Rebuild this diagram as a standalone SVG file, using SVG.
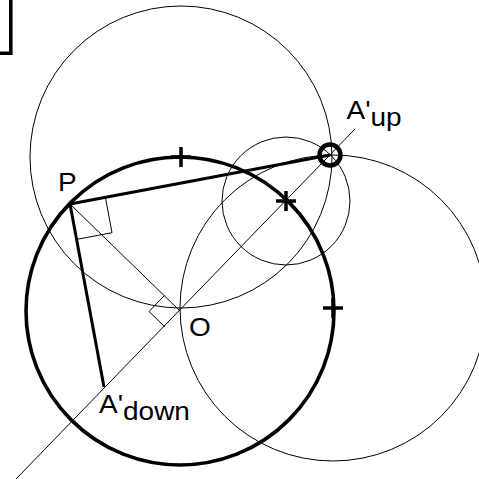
<svg xmlns="http://www.w3.org/2000/svg" width="479" height="479" viewBox="0 0 479 479">
<style>
.thin{fill:none;stroke:#000;stroke-width:1}
.thick{fill:none;stroke:#000;stroke-width:3}
.bold{fill:none;stroke:#000;stroke-width:3.6}
.mark{fill:none;stroke:#000;stroke-width:3.5}
.lbl{font-family:"Liberation Sans",Arial,sans-serif;font-size:25px;fill:#000}
</style>
<rect width="479" height="479" fill="#fff"/>
<path class="bold" d="M0,53.3 H10.8 V0"/>
<g id="circles">
<circle id="circle-main" class="bold" cx="180" cy="311" r="154"/>
<circle id="circle-top" class="thin" cx="181" cy="157" r="151"/>
<circle id="circle-right" class="thin" cx="333" cy="308" r="153"/>
<circle id="circle-small" class="thin" cx="286" cy="201" r="64"/>
</g>
<g id="connectors">
<line class="thin" x1="355" y1="129" x2="16" y2="479"/>
<line class="thin" x1="70" y1="204" x2="180" y2="311"/>
<line class="thick" x1="70" y1="204" x2="330" y2="155"/>
<line class="thick" x1="70" y1="204" x2="104" y2="387"/>
<polyline class="thin" points="105.4,197.3 112,232.7 76.6,239.4"/>
<polyline class="thin" points="164.2,295.7 149,311.5 164.8,326.8"/>
</g>
<g id="marks">
<path class="mark" d="M171,157 H191 M181,147 V167"/>
<path class="mark" d="M276,201 H296 M286,191 V211"/>
<path class="mark" d="M323,308 H343 M333,298 V318"/>
<circle id="A-up-mark" cx="330" cy="155" r="10.5" fill="none" stroke="#000" stroke-width="4.5"/>
</g>
<g id="node-P"><text class="lbl" transform="translate(58,191) scale(1.12,1)">P</text></g>
<g id="node-O"><text class="lbl" transform="translate(189,336) scale(1.12,1)">O</text></g>
<g id="node-Aup"><text class="lbl" transform="translate(346.5,119.3) scale(1.12,1)">A'<tspan dy="6.5">up</tspan></text></g>
<g id="node-Adown"><text class="lbl" transform="translate(99,412.7) scale(1.12,1)">A'<tspan dy="7.3">down</tspan></text></g>
</svg>
